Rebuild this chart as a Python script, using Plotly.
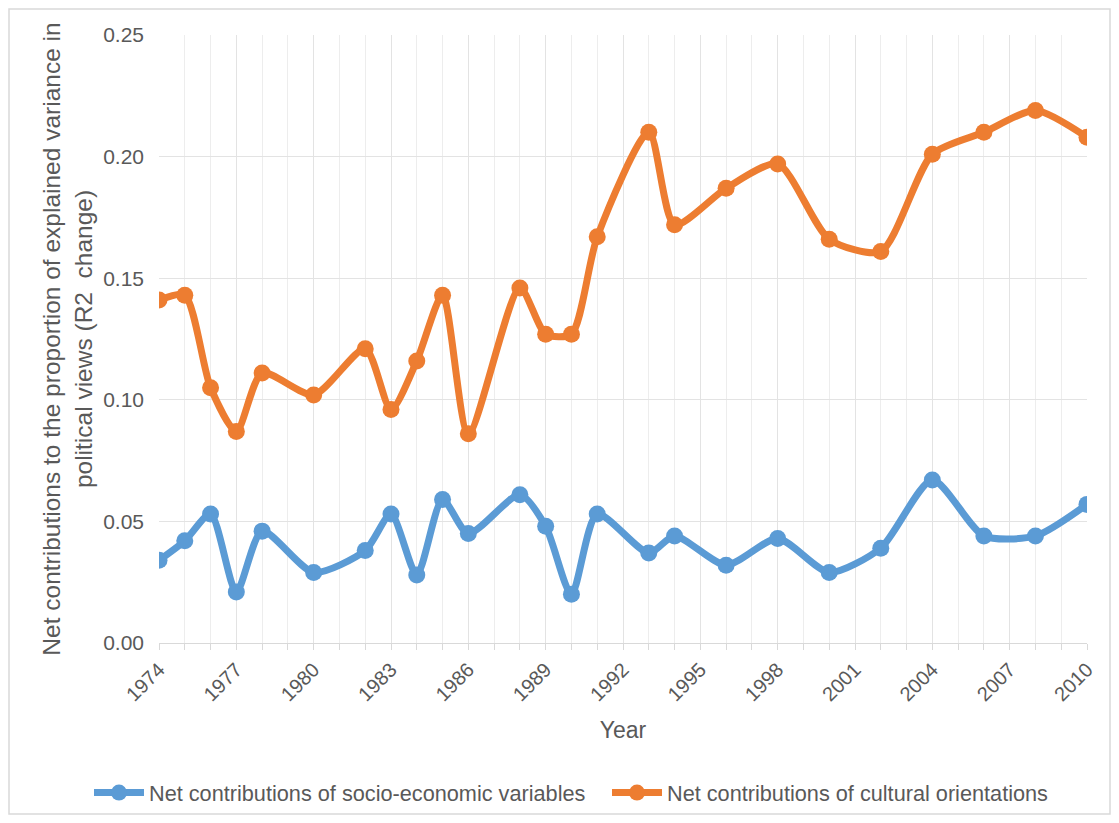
import plotly.graph_objects as go

years = [1974, 1975, 1976, 1977, 1978, 1980, 1982, 1983, 1984, 1985, 1986, 1988,
         1989, 1990, 1991, 1993, 1994, 1996, 1998, 2000, 2002, 2004, 2006, 2008, 2010]
socio = [0.034, 0.042, 0.053, 0.021, 0.046, 0.029, 0.038, 0.053, 0.028, 0.059, 0.045, 0.061,
         0.048, 0.020, 0.053, 0.037, 0.044, 0.032, 0.043, 0.029, 0.039, 0.067, 0.044, 0.044, 0.057]
cultural = [0.141, 0.143, 0.105, 0.087, 0.111, 0.102, 0.121, 0.096, 0.116, 0.143, 0.086, 0.146,
            0.127, 0.127, 0.167, 0.210, 0.172, 0.187, 0.197, 0.166, 0.161, 0.201, 0.210, 0.219, 0.208]
tick_years = list(range(1974, 2011, 3))
y_ticks = [0, 0.05, 0.10, 0.15, 0.20, 0.25]

blue = "#5B9BD5"
orange = "#ED7D31"
gray_text = "#595959"

W, H = 1103, 807
ML, MT, MR, MB = 151, 27, 24, 172
PW = W - ML - MR
PH = H - MT - MB

fig = go.Figure()
fig.add_trace(go.Scatter(
    x=years, y=socio, mode="lines+markers",
    name="Net contributions of socio-economic variables",
    line=dict(color=blue, width=7, shape="spline", smoothing=0.7),
    marker=dict(color=blue, size=17),
))
fig.add_trace(go.Scatter(
    x=years, y=cultural, mode="lines+markers",
    name="Net contributions of cultural orientations",
    line=dict(color=orange, width=7, shape="spline", smoothing=0.7),
    marker=dict(color=orange, size=17),
))

fig.update_layout(
    width=W, height=H,
    margin=dict(l=ML, r=MR, t=MT, b=MB, autoexpand=False),
    paper_bgcolor="white", plot_bgcolor="white",
    font=dict(family="Liberation Sans, Arial, sans-serif", color=gray_text, size=21),
    showlegend=True,
    legend=dict(orientation="h", x=-70 / PW, xanchor="left",
                y=-150 / PH, yanchor="middle", bgcolor="rgba(0,0,0,0)",
                font=dict(size=21.7, color=gray_text), itemwidth=50,
                entrywidth=453, entrywidthmode="pixels"),
    xaxis=dict(
        range=[1974, 2010], tickvals=tick_years, ticktext=[str(t) for t in tick_years],
        tickangle=-45, showgrid=True, gridcolor="#E3E3E3", gridwidth=1,
        showline=True, linecolor="#D9D9D9", linewidth=1,
        ticks="outside", ticklen=6, tickcolor="#D9D9D9",
        minor=dict(dtick=1, tick0=1974, showgrid=True, gridcolor="#EDEDED",
                   ticks="outside", ticklen=6, tickcolor="#D9D9D9"),
        tickfont=dict(size=20, color=gray_text),
        title=dict(text="Year", font=dict(size=23, color=gray_text), standoff=17),
        zeroline=False, automargin=False,
    ),
    yaxis=dict(
        range=[0, 0.25], tickvals=y_ticks, tickformat=".2f",
        showgrid=True, gridcolor="#E3E3E3", gridwidth=1,
        showline=False, zeroline=False, automargin=False,
        tickfont=dict(size=21, color=gray_text), ticks="", ticklabelstandoff=14,
        title=dict(text="Net contributions to the proportion of explained variance in<br>political views (R2  change)",
                   font=dict(size=24.5, color=gray_text), standoff=3),
    ),
    shapes=[dict(type="rect", xref="paper", yref="paper",
                 x0=-(ML - 1) / PW, x1=1 + (MR - 1) / PW,
                 y0=-(MB - 1) / PH, y1=1 + (MT - 1) / PH,
                 line=dict(color="#D9D9D9", width=1.5), fillcolor="rgba(0,0,0,0)", layer="below")],
)

fig.write_html("out.html")
